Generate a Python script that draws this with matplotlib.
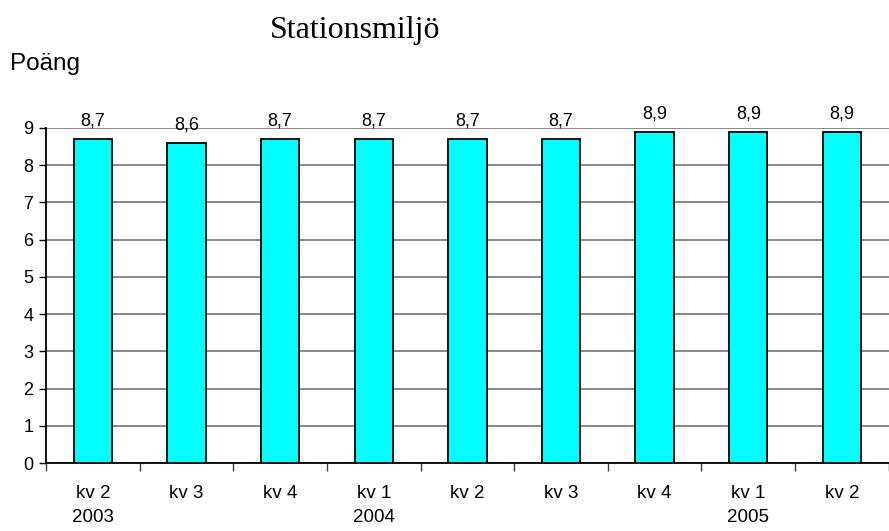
import matplotlib
matplotlib.use("Agg")
import matplotlib.pyplot as plt
import numpy as np

quarters = ["kv 2", "kv 3", "kv 4", "kv 1", "kv 2", "kv 3", "kv 4", "kv 1", "kv 2"]
years = ["2003", "", "", "2004", "", "", "", "2005", ""]
scores = [8.7, 8.6, 8.7, 8.7, 8.7, 8.7, 8.9, 8.9, 8.9]

plt.rcParams["font.family"] = ["Liberation Sans", "DejaVu Sans"]

fig = plt.figure(figsize=(8.89, 5.31), dpi=100)
ax = fig.add_axes([0.0517, 0.128, 0.948, 0.631])

x = np.arange(len(scores))
ax.bar(x, scores, width=0.41, color="#00FFFF", edgecolor="black", linewidth=1.3, zorder=3)

for xi, v in zip(x, scores):
    ax.annotate(f"{v:.1f}".replace(".", ","), (xi, v), xytext=(0, 9.5),
                textcoords="offset points", ha="center", va="baseline", fontsize=13)

ax.set_xlim(-0.5, len(scores) - 0.5)
ax.set_ylim(0, 9)
ax.set_yticks(range(0, 10))
ax.yaxis.grid(True, color="#808080", linewidth=1.3, zorder=0)
ax.tick_params(axis="y", length=5, width=1, labelsize=13, pad=4)

ax.set_xticks(np.arange(-0.5, len(scores) - 0.4, 1.0))
ax.set_xticklabels([])
ax.tick_params(axis="x", which="major", length=6, width=1, color="#404040")
ax.set_xticks(x, minor=True)
ax.set_xticklabels([f"{q}\n{y}" for q, y in zip(quarters, years)], minor=True,
                   fontsize=13.5, linespacing=1.55)
ax.tick_params(axis="x", which="minor", length=0, pad=16)

for s in ["top", "right"]:
    ax.spines[s].set_visible(False)
ax.spines["left"].set_linewidth(1.3)
ax.spines["bottom"].set_linewidth(1.3)

fig.text(0.400, 0.943, "Stationsmiljö", ha="center", va="center", fontsize=23,
         family=["Liberation Serif", "DejaVu Serif"])
fig.text(0.011, 0.879, "Poäng", ha="left", va="center", fontsize=17.5)

fig.savefig("out.png", dpi=100)
